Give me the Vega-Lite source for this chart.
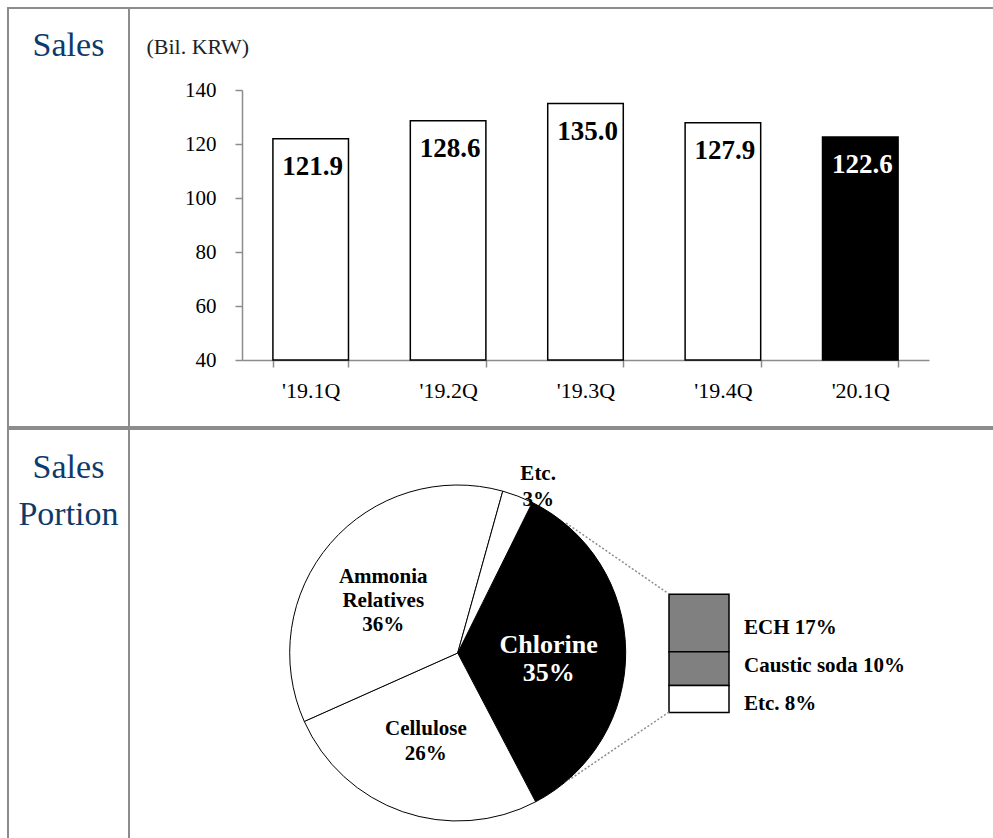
{
  "$schema": "https://vega.github.io/schema/vega-lite/v6.json",
  "background": "white",
  "padding": {"left": 7, "top": 7, "right": 0, "bottom": 0},
  "spacing": 0,
  "config": {
    "view": {"stroke": "#8c8c8c", "strokeWidth": 2},
    "font": "Liberation Serif",
    "concat": {"spacing": 0}
  },
  "vconcat": [
    {
      "spacing": 0,
      "bounds": "flush",
      "hconcat": [
        {
          "width": 121,
          "height": 419,
          "data": {"values": [{"t": "Sales"}]},
          "mark": {"type": "text", "align": "center", "baseline": "alphabetic", "font": "Liberation Serif", "fontSize": 34, "color": "#0e3a6b"},
          "encoding": {
            "x": {"datum": 0.5, "type": "quantitative", "scale": {"domain": [0, 1]}, "axis": null},
            "y": {"datum": 0.8854, "type": "quantitative", "scale": {"domain": [0, 1]}, "axis": null},
            "text": {"field": "t"}
          }
        },
        {
          "width": 870,
          "height": 419,
          "data": {"values": [
            {"q": "'19.1Q", "v": 121.9},
            {"q": "'19.2Q", "v": 128.6},
            {"q": "'19.3Q", "v": 135.0},
            {"q": "'19.4Q", "v": 127.9},
            {"q": "'20.1Q", "v": 122.6}
          ]},
          "encoding": {
            "x": {
              "field": "q", "type": "nominal", "sort": null,
              "scale": {"range": [113, 800], "paddingInner": 0.45, "paddingOuter": 0.225},
              "axis": {"title": null, "orient": "bottom", "offset": -67, "domainColor": "#8c8c8c", "domainWidth": 1.5, "tickColor": "#8c8c8c", "tickWidth": 1.5, "tickSize": 7, "tickBand": "extent", "labelFont": "Liberation Serif", "labelFontSize": 22, "labelColor": "black", "labelPadding": 13, "labelAngle": 0}
            },
            "y": {
              "field": "v", "type": "quantitative",
              "scale": {"domain": [40, 140], "range": [352, 82], "zero": false, "nice": false, "clamp": true},
              "axis": {"title": "(Bil. KRW)", "orient": "left", "offset": -113, "values": [40, 60, 80, 100, 120, 140], "grid": false, "domainColor": "#8c8c8c", "domainWidth": 1.5, "tickColor": "#8c8c8c", "tickWidth": 1.5, "tickSize": 7, "labelFont": "Liberation Serif", "labelFontSize": 21, "labelColor": "black", "labelPadding": 19, "titleAngle": 0, "titleX": -96, "titleY": 38, "titleAlign": "left", "titleBaseline": "middle", "titleFont": "Liberation Serif", "titleFontSize": 22, "titleFontWeight": "normal", "titleColor": "#222222"}
            }
          },
          "layer": [
            {
              "mark": {"type": "bar", "stroke": "black", "strokeWidth": 1.5},
              "encoding": {"color": {"condition": {"test": "datum.q === \"'20.1Q\"", "value": "black"}, "value": "white"}}
            },
            {
              "mark": {"type": "text", "baseline": "middle", "dy": 28, "dx": 2, "font": "Liberation Serif", "fontSize": 27, "fontWeight": "bold"},
              "encoding": {
                "text": {"field": "v", "type": "quantitative", "format": ".1f"},
                "color": {"condition": {"test": "datum.q === \"'20.1Q\"", "value": "white"}, "value": "black"}
              }
            }
          ]
        }
      ]
    },
    {
      "spacing": 0,
      "bounds": "flush",
      "hconcat": [
        {
          "width": 121,
          "height": 420,
          "data": {"values": [{"t": "Sales\nPortion"}]},
          "mark": {"type": "text", "align": "center", "baseline": "alphabetic", "lineBreak": "\n", "lineHeight": 47, "font": "Liberation Serif", "fontSize": 34, "color": "#0e3a6b"},
          "encoding": {
            "x": {"datum": 0.5, "type": "quantitative", "scale": {"domain": [0, 1]}, "axis": null},
            "y": {"datum": 0.883, "type": "quantitative", "scale": {"domain": [0, 1]}, "axis": null},
            "text": {"field": "t"}
          }
        },
        {
          "width": 870,
          "height": 420,
          "layer": [
            {
              "data": {"name": "pie", "values": [
                {"name": "Chlorine", "p": 35, "o": 1, "label": "Chlorine\n35%"},
                {"name": "Cellulose", "p": 26, "o": 2, "label": "Cellulose\n26%"},
                {"name": "Ammonia Relatives", "p": 36, "o": 3, "label": "Ammonia\nRelatives\n36%"},
                {"name": "Etc.", "p": 3, "o": 4, "label": "Etc.\n3%"}
              ]},
              "layer": [
                {
                  "mark": {"type": "arc", "x": 328.7, "y": 224, "radius": 168, "stroke": "black", "strokeWidth": 1},
                  "encoding": {
                    "theta": {"field": "p", "type": "quantitative", "stack": true, "scale": {"range": [0.46, 6.7432]}},
                    "order": {"field": "o", "type": "quantitative"},
                    "color": {"condition": {"test": "datum.name === 'Chlorine'", "value": "black"}, "value": "white"}
                  }
                },
                {
                  "mark": {"type": "text", "x": 328.7, "y": 224, "radius": 91, "dy": -7, "align": "center", "baseline": "middle", "lineBreak": "\n", "lineHeight": 28, "font": "Liberation Serif", "fontSize": 26, "fontWeight": "bold", "color": "white"},
                  "encoding": {
                    "theta": {"field": "p", "type": "quantitative", "stack": true, "scale": {"range": [0.46, 6.7432]}},
                    "order": {"field": "o", "type": "quantitative"},
                    "text": {"condition": {"test": "datum.name === 'Chlorine'", "field": "label"}, "value": ""}
                  }
                },
                {
                  "mark": {"type": "text", "x": 328.7, "y": 224, "radius": 89, "dx": -7, "dy": -18, "align": "center", "baseline": "middle", "lineBreak": "\n", "lineHeight": 24, "font": "Liberation Serif", "fontSize": 21, "fontWeight": "bold", "color": "black"},
                  "encoding": {
                    "theta": {"field": "p", "type": "quantitative", "stack": true, "scale": {"range": [0.46, 6.7432]}},
                    "order": {"field": "o", "type": "quantitative"},
                    "text": {"condition": {"test": "datum.name === 'Ammonia Relatives'", "field": "label"}, "value": ""}
                  }
                },
                {
                  "mark": {"type": "text", "x": 328.7, "y": 224, "radius": 97, "dy": -16, "align": "center", "baseline": "middle", "lineBreak": "\n", "lineHeight": 25, "font": "Liberation Serif", "fontSize": 21, "fontWeight": "bold", "color": "black"},
                  "encoding": {
                    "theta": {"field": "p", "type": "quantitative", "stack": true, "scale": {"range": [0.46, 6.7432]}},
                    "order": {"field": "o", "type": "quantitative"},
                    "text": {"condition": {"test": "datum.name === 'Cellulose'", "field": "label"}, "value": ""}
                  }
                },
                {
                  "mark": {"type": "text", "x": 328.7, "y": 224, "radius": 183, "dx": 15, "dy": -8, "align": "center", "baseline": "middle", "lineBreak": "\n", "lineHeight": 26, "font": "Liberation Serif", "fontSize": 21, "fontWeight": "bold", "color": "black"},
                  "encoding": {
                    "theta": {"field": "p", "type": "quantitative", "stack": true, "scale": {"range": [0.46, 6.7432]}},
                    "order": {"field": "o", "type": "quantitative"},
                    "text": {"condition": {"test": "datum.name === 'Etc.'", "field": "label"}, "value": ""}
                  }
                }
              ]
            },
            {
              "data": {"values": [
                {"g": "Chlorine", "name": "ECH", "v": 17, "o": 3, "label": "ECH 17%"},
                {"g": "Chlorine", "name": "Caustic soda", "v": 10, "o": 2, "label": "Caustic soda 10%"},
                {"g": "Chlorine", "name": "Etc.", "v": 8, "o": 1, "label": "Etc. 8%"}
              ]},
              "transform": [{"stack": "v", "groupby": ["g"], "sort": [{"field": "o"}], "as": ["s0", "s1"]}],
              "encoding": {
                "x": {"field": "g", "type": "nominal", "scale": {"range": [540, 600], "paddingInner": 0, "paddingOuter": 0}, "axis": null}
              },
              "layer": [
                {
                  "mark": {"type": "bar", "stroke": "black", "strokeWidth": 1.5},
                  "encoding": {
                    "y": {"field": "s0", "type": "quantitative", "scale": {"domain": [0, 35], "range": [283.5, 165.3], "nice": false, "zero": false}, "axis": null},
                    "y2": {"field": "s1"},
                    "color": {"condition": {"test": "datum.name === 'Etc.'", "value": "white"}, "value": "#808080"}
                  }
                },
                {
                  "mark": {"type": "text", "align": "left", "baseline": "middle", "dx": 45, "font": "Liberation Serif", "fontSize": 21, "fontWeight": "bold", "color": "black"},
                  "encoding": {
                    "y": {"field": "name", "type": "ordinal", "sort": ["ECH", "Caustic soda", "Etc."], "scale": {"type": "point", "range": [199, 275], "padding": 0}, "axis": null},
                    "text": {"field": "label"}
                  }
                }
              ],
              "resolve": {"scale": {"y": "independent"}}
            },
            {
              "data": {"values": [{"a": 1}]},
              "mark": {"type": "rule", "strokeDash": [2, 2], "color": "#8c8c8c", "strokeWidth": 1.5},
              "encoding": {"x": {"value": 437}, "y": {"value": 94}, "x2": {"value": 540}, "y2": {"value": 165}}
            },
            {
              "data": {"values": [{"a": 1}]},
              "mark": {"type": "rule", "strokeDash": [2, 2], "color": "#8c8c8c", "strokeWidth": 1.5},
              "encoding": {"x": {"value": 540}, "y": {"value": 283}, "x2": {"value": 440}, "y2": {"value": 351}}
            }
          ]
        }
      ]
    }
  ]
}
